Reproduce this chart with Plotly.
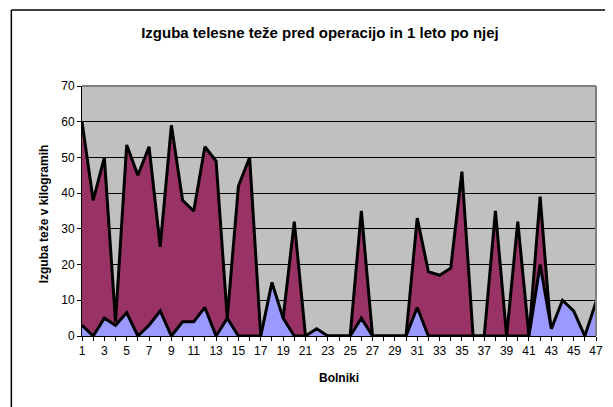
import plotly.graph_objects as go

bolniki = list(range(1, 48))
po_operaciji = [60, 38, 50, 4, 53.5, 45, 53, 25, 59, 38, 35, 53, 49, 5, 42, 50, 0, 0, 5, 32,
                0, 0, 0, 0, 0, 35, 0, 0, 0, 0, 33, 18, 17, 19, 46, 0, 0, 35, 0, 32,
                0, 39, 0, 0, 0, 0, 0]
pred_operacijo = [3, 0, 5, 3, 6.5, 0, 3, 7, 0, 4, 4, 8, 0, 5, 0, 0, 0, 15, 5, 0,
                  0, 2, 0, 0, 0, 5, 0, 0, 0, 0, 8, 0, 0, 0, 0, 0, 0, 0, 0, 0,
                  0, 20, 2, 10, 7, 0, 9.5]
tick_labels = [str(b) if b % 2 == 1 else "" for b in bolniki]

# the page body adds an 8px offset; work in reference pixel coords
OFF = 8
W, H = 613 - OFF, 407 - OFF
PL, PR, PT, PB = 81.7, 596, 86, 336          # plot area in reference pixels
L, R, T, B = PL - OFF, 613 - PR, PT - OFF, 407 - PB
pw, ph = W - L - R, H - T - B

def px_x(p):
    return (p - PL) / pw

def px_y(p):
    return 1 - (p - PT) / ph

fig = go.Figure()
fig.add_trace(go.Scatter(x=bolniki, y=po_operaciji, mode="lines", fill="tozeroy",
                         fillcolor="#993366", line=dict(color="black", width=3),
                         name="1 leto po operaciji"))
fig.add_trace(go.Scatter(x=bolniki, y=pred_operacijo, mode="lines", fill="tozeroy",
                         fillcolor="#9999FF", line=dict(color="black", width=3),
                         name="pred operacijo"))

font = "Liberation Sans, Arial, sans-serif"
fig.update_layout(
    width=W, height=H, margin=dict(l=L, r=R, t=T, b=B),
    paper_bgcolor="white", plot_bgcolor="#C0C0C0", showlegend=False,
    font=dict(family=font, size=12, color="black"),
    title=dict(text="<b>Izguba telesne teže pred operacijo in 1 leto po njej</b>",
               x=(320 - OFF) / W, xanchor="center", y=1 - (33 - OFF) / H, yanchor="middle",
               font=dict(size=15, family=font)),
    xaxis=dict(range=[1, 47], tickmode="array", tickvals=bolniki, ticktext=tick_labels,
               ticks="outside", ticklen=4, tickcolor="black", showgrid=False,
               showline=True, linecolor="black", linewidth=1, zeroline=False,
               tickfont=dict(size=12), automargin=False),
    yaxis=dict(range=[0, 70], dtick=10, ticks="outside", ticklen=4, tickcolor="black",
               showgrid=True, gridcolor="black", gridwidth=1, zeroline=False,
               showline=True, linecolor="black", linewidth=1, tickfont=dict(size=12),
               automargin=False),
    annotations=[
        dict(text="<b>Bolniki</b>", xref="paper", yref="paper", x=px_x(339), y=px_y(378),
             xanchor="center", yanchor="middle", showarrow=False, font=dict(size=12)),
        dict(text="<b>Izguba teže v kilogramih</b>", xref="paper", yref="paper",
             x=px_x(44), y=px_y(214), textangle=-90, xanchor="center", yanchor="middle",
             showarrow=False, font=dict(size=12)),
    ],
)

# plot area border (grey, top and right)
fig.add_shape(type="line", xref="x domain", yref="y domain", x0=0, x1=1, y0=1, y1=1,
              line=dict(color="#808080", width=2), layer="above")
fig.add_shape(type="line", xref="x domain", yref="y domain", x0=1, x1=1, y0=0, y1=1,
              line=dict(color="#808080", width=2), layer="above")

# outer chart frame (left and top edges visible in the picture)
fig.add_shape(type="line", xref="paper", yref="paper", x0=px_x(11), x1=px_x(11),
              y0=px_y(420), y1=px_y(10), line=dict(color="black", width=1.5))
fig.add_shape(type="line", xref="paper", yref="paper", x0=px_x(11), x1=px_x(620),
              y0=px_y(10), y1=px_y(10), line=dict(color="black", width=1.5))

fig.write_html("out.html")
